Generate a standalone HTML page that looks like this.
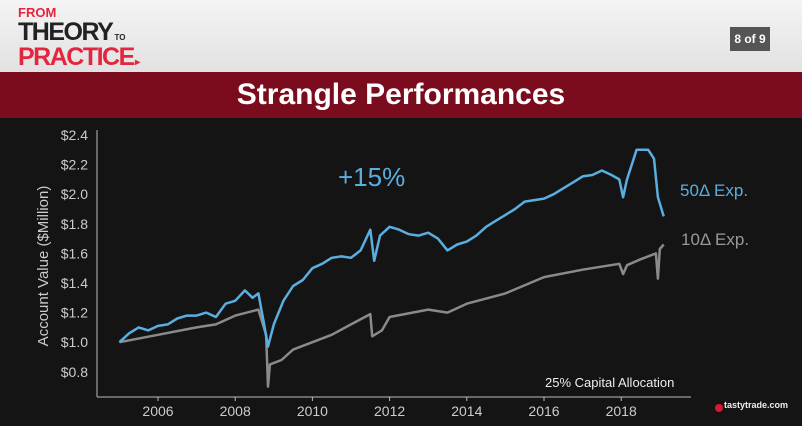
<!DOCTYPE html>
<html><head><meta charset="utf-8"><style>
body{margin:0;width:802px;height:426px;overflow:hidden;background:#121212;font-family:"Liberation Sans",sans-serif;}
#hdr{position:absolute;left:0;top:0;width:802px;height:72px;background:linear-gradient(#f4f4f4,#e2e2e2);}
#band{position:absolute;left:0;top:72px;width:802px;height:46px;background:#7a0c1d;}
#dark{position:absolute;left:0;top:118px;width:802px;height:308px;background:#141414;}
</style></head><body>
<div id="hdr">
 <div style="position:absolute;left:18px;top:6px;line-height:1">
  <div style="color:#e3263f;font-weight:bold;font-size:13px">FROM</div>
  <div style="color:#222;font-size:25px;font-weight:bold;letter-spacing:-1.5px;margin-top:1px">THEORY<span style="font-size:8px;letter-spacing:0"> TO</span></div>
  <div style="color:#e3263f;font-size:25px;font-weight:bold;letter-spacing:-1.5px">PRACTICE<span style="font-size:10px"> ▸</span></div>
 </div>
 <div style="position:absolute;left:730px;top:27px;width:40px;height:24px;background:#555;color:#fff;font-size:12px;font-weight:bold;text-align:center;line-height:24px">8 of 9</div>
</div>
<div id="band"><div style="text-align:center;color:#fff;font-weight:bold;font-size:30px;line-height:46px">Strangle Performances</div></div>
<div id="dark"></div>
<svg id="c" width="802" height="426" style="position:absolute;left:0;top:0"></svg>
<script>
const blueX=[2005.0,2005.25,2005.5,2005.75,2006.0,2006.25,2006.5,2006.75,2007.0,2007.25,2007.5,2007.75,2008.0,2008.25,2008.45,2008.6,2008.75,2008.85,2009.0,2009.25,2009.5,2009.75,2010.0,2010.25,2010.5,2010.75,2011.0,2011.25,2011.5,2011.6,2011.75,2012.0,2012.25,2012.5,2012.75,2013.0,2013.25,2013.5,2013.75,2014.0,2014.25,2014.5,2014.75,2015.0,2015.25,2015.5,2015.75,2016.0,2016.25,2016.5,2016.75,2017.0,2017.25,2017.5,2017.75,2017.95,2018.05,2018.15,2018.4,2018.7,2018.85,2018.95,2019.1];
const blueY=[1.00,1.06,1.10,1.08,1.11,1.12,1.16,1.18,1.18,1.20,1.17,1.26,1.28,1.35,1.30,1.33,1.12,0.97,1.12,1.28,1.38,1.42,1.50,1.53,1.57,1.58,1.57,1.62,1.76,1.55,1.72,1.78,1.76,1.73,1.72,1.74,1.70,1.62,1.66,1.68,1.72,1.78,1.82,1.86,1.90,1.95,1.96,1.97,2.00,2.04,2.08,2.12,2.13,2.16,2.13,2.10,1.98,2.10,2.30,2.30,2.24,1.98,1.85];
const grayX=[2005.0,2006.0,2007.0,2007.5,2008.0,2008.6,2008.8,2008.85,2008.9,2009.2,2009.5,2010.0,2010.5,2011.0,2011.5,2011.55,2011.8,2012.0,2013.0,2013.5,2014.0,2015.0,2016.0,2017.0,2017.95,2018.05,2018.15,2018.5,2018.9,2018.95,2019.0,2019.1];
const grayY=[1.00,1.05,1.10,1.12,1.18,1.22,1.05,0.70,0.85,0.88,0.95,1.00,1.05,1.12,1.19,1.04,1.08,1.17,1.22,1.20,1.26,1.33,1.44,1.49,1.53,1.46,1.52,1.56,1.60,1.43,1.63,1.66];
const yTicks=[0.8,1.0,1.2,1.4,1.6,1.8,2.0,2.2,2.4];
const yTickLabels=["$0.8","$1.0","$1.2","$1.4","$1.6","$1.8","$2.0","$2.2","$2.4"];
const xTicks=[2006,2008,2010,2012,2014,2016,2018];
const xTickLabels=["2006","2008","2010","2012","2014","2016","2018"];
const sx=v=>158+(v-2006)*38.6;
const sy=v=>135+(2.4-v)*148;
const svg=document.getElementById('c');const NS='http://www.w3.org/2000/svg';
function el(t,a,txt){const e=document.createElementNS(NS,t);for(const k in a)e.setAttribute(k,a[k]);if(txt)e.textContent=txt;svg.appendChild(e);return e;}
let e=el('line',{x1:97,y1:130,x2:97,y2:397,stroke:'#bbb','stroke-width':1});


e=el('line',{x1:97,y1:397,x2:691,y2:397,stroke:'#bbb','stroke-width':1});


yTicks.forEach((v,i)=>{
 const t=el('text',{x:88,y:sy(v)+5,fill:'#ccc','font-size':14,'text-anchor':'end'},yTickLabels[i]);
 
 
});
xTicks.forEach((v,i)=>{
 el('line',{x1:sx(v),y1:397,x2:sx(v),y2:401,stroke:'#bbb'});
 const t=el('text',{x:sx(v),y:416,fill:'#ccc','font-size':14,'text-anchor':'middle'},xTickLabels[i]);
 
 
});
e=el('text',{x:48,y:266,fill:'#ccc','font-size':15,'text-anchor':'middle',transform:'rotate(-90 48 266)'},'Account Value ($Million)');


function line(xs,ys,c){return el('polyline',{points:xs.map((x,i)=>sx(x).toFixed(1)+','+sy(ys[i]).toFixed(1)).join(' '),fill:'none',stroke:c,'stroke-width':2.5,'stroke-linejoin':'round'});}
e=line(grayX,grayY,'#8a8a8a');


e=line(blueX,blueY,'#5aaee0');


e=el('text',{x:338,y:186,fill:'#5aaee0','font-size':26},'+15%');


e=el('text',{x:680,y:196,fill:'#5aaee0','font-size':17},'50Δ Exp.');


e=el('text',{x:681,y:245,fill:'#999','font-size':17},'10Δ Exp.');


e=el('text',{x:545,y:387,fill:'#eee','font-size':13},'25% Capital Allocation');


e=el('circle',{cx:719,cy:408,r:4,fill:'#d8182e'});


e=el('text',{x:724,y:408,fill:'#eee','font-size':9,'font-weight':'bold'},'tastytrade.com');


</script>
</body></html>
